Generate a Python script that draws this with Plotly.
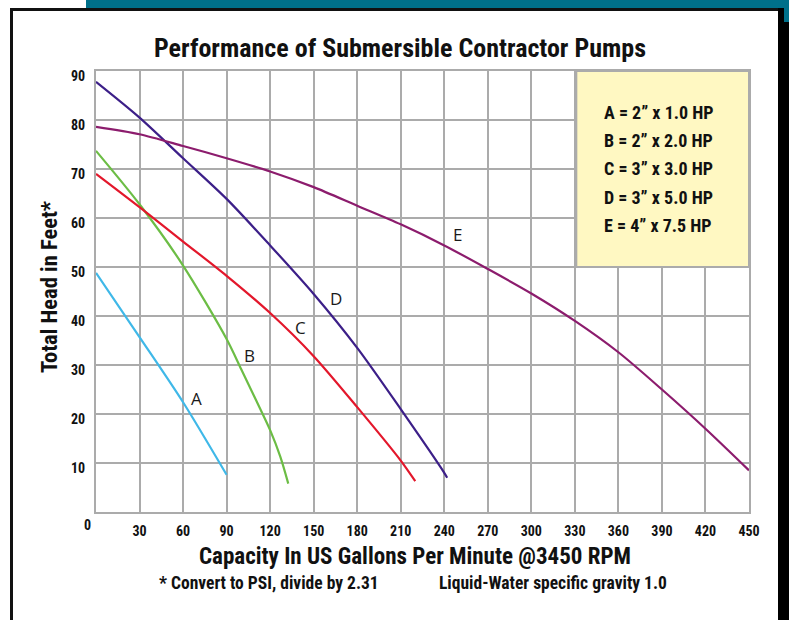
import plotly.graph_objects as go

# ---------------- data ----------------
pump_names = ["A", "B", "C", "D", "E"]
pump_specs = ["A = 2” x 1.0 HP", "B = 2” x 2.0 HP", "C = 3” x 3.0 HP",
              "D = 3” x 5.0 HP", "E = 4” x 7.5 HP"]

a_gpm = [0, 30, 60, 90]
a_head = [48.8, 35.7, 22.4, 7.6]

b_gpm = [0, 30, 60, 90, 100, 110, 120, 127, 132.5]
b_head = [73.7, 62.8, 50.3, 35.3, 29.2, 23.0, 16.7, 11.3, 5.8]

c_gpm = [0, 30, 60, 90, 120, 150, 180, 210, 220]
c_head = [69.0, 62.2, 55.2, 48.2, 40.6, 31.8, 21.4, 10.5, 6.3]

d_gpm = [0, 30, 60, 90, 120, 150, 180, 210, 240, 242]
d_head = [87.8, 80.5, 72.2, 63.9, 54.4, 44.5, 33.5, 21.0, 8.0, 7.0]

e_gpm = [0, 30, 60, 90, 120, 150, 180, 210, 240, 270, 300, 330, 360, 390, 420, 450]
e_head = [78.6, 77.1, 74.7, 72.2, 69.5, 66.3, 62.5, 58.7, 54.4, 49.6, 44.6, 39.0,
          32.6, 25.0, 17.0, 8.5]

label_gpm = [69.4, 106.1, 140.6, 165.2, 249.2]
label_head = [23.2, 32.0, 37.6, 43.5, 56.6]

x_ticks = [30, 60, 90, 120, 150, 180, 210, 240, 270, 300, 330, 360, 390, 420, 450]
y_ticks = [10, 20, 30, 40, 50, 60, 70, 80, 90]

title_text = "Performance of Submersible Contractor Pumps"
x_title = "Capacity In US Gallons Per Minute @3450 RPM"
y_title = "Total Head in Feet*"
note_left = "* Convert to PSI, divide by 2.31"
note_right = "Liquid-Water specific gravity 1.0"

# ---------------- style ----------------
W, H = 789, 620
L, R, T, B = 96, 749, 71, 512
COND = "Liberation Sans Narrow, Roboto Condensed, DejaVu Sans Condensed, Arial Narrow, sans-serif"
GRID = "#ababab"
colors = ["#3fb8e8", "#6cbd45", "#e3172b", "#3c1f88", "#8c1c6d"]

def px(xp):
    return (xp - L) / (R - L)

def py(yp):
    return (B - yp) / (B - T)

fig = go.Figure()
series = [(a_gpm, a_head), (b_gpm, b_head), (c_gpm, c_head), (d_gpm, d_head), (e_gpm, e_head)]
for name, (xs, ys), col in zip(pump_names, series, colors):
    fig.add_trace(go.Scatter(x=xs, y=ys, mode="lines", name=name,
                             line=dict(color=col, width=2.2, shape="spline", smoothing=0.8),
                             showlegend=False, hoverinfo="x+y"))

ann = []
# curve letters
for name, xv, yv in zip(pump_names, label_gpm, label_head):
    ann.append(dict(x=xv, y=yv, text=name, showarrow=False, xref="x", yref="y",
                    xanchor="center", yanchor="middle",
                    font=dict(family="Open Sans, Noto Sans, sans-serif", size=17, color="#1a1a1a")))
# y tick labels
for v in y_ticks:
    ann.append(dict(x=0, y=v, xref="paper", yref="y", text="<b>%d</b>" % v, showarrow=False,
                    xanchor="right", yanchor="middle", xshift=-9, yshift=-5,
                    font=dict(family=COND, size=14, color="#111")))
# zero label
ann.append(dict(x=0, y=0, xref="x", yref="paper", text="<b>0</b>", showarrow=False,
                xanchor="center", yanchor="top", xshift=-9, yshift=-3,
                font=dict(family=COND, size=14, color="#111")))
# legend box text
legend_y = [81.5, 75.8, 70.1, 64.2, 58.5]
for t, yv in zip(pump_specs, legend_y):
    ann.append(dict(x=349, y=yv, xref="x", yref="y", text="<b>%s</b>" % t, showarrow=False,
                    xanchor="left", yanchor="middle", font=dict(family=COND, size=18, color="#111")))
# title and axis titles
def txt(xp, yp, text, size, xanchor="center", angle=0):
    return dict(x=px(xp), y=py(yp), xref="paper", yref="paper", text="<b>%s</b>" % text,
                showarrow=False, xanchor=xanchor, yanchor="middle", textangle=angle,
                font=dict(family=COND, size=size, color="#111"))

ann.append(txt(400, 48, title_text, 26))
ann.append(txt(415, 556, x_title, 23))
ann.append(txt(157, 583, note_left, 17.5, xanchor="left"))
ann.append(txt(437, 583, note_right, 17.5, xanchor="left"))
ann.append(txt(49, 287, y_title, 22.5, angle=-90))

shapes = [
    # legend box
    dict(type="rect", xref="x", yref="y", x0=331, x1=450, y0=50, y1=90,
         fillcolor="#fff8c2", line=dict(color=GRID, width=2), layer="above"),
    # teal top bar
    dict(type="rect", xref="paper", yref="paper", x0=px(86), x1=px(789), y0=py(0), y1=py(8),
         fillcolor="#00708a", line=dict(width=0), layer="above"),
    # black frame
    dict(type="rect", xref="paper", yref="paper", x0=px(10), x1=px(13), y0=py(8), y1=py(620),
         fillcolor="#111", line=dict(width=0), layer="above"),
    dict(type="rect", xref="paper", yref="paper", x0=px(10), x1=px(784), y0=py(8), y1=py(11),
         fillcolor="#111", line=dict(width=0), layer="above"),
    dict(type="rect", xref="paper", yref="paper", x0=px(778), x1=px(789), y0=py(8), y1=py(620),
         fillcolor="#000", line=dict(width=0), layer="above"),
    dict(type="rect", xref="paper", yref="paper", x0=px(784), x1=px(789), y0=py(0), y1=py(22),
         fillcolor="#00708a", line=dict(width=0), layer="above"),
]

fig.update_layout(
    width=W, height=H,
    margin=dict(l=L, r=W - R, t=T, b=H - B),
    paper_bgcolor="white", plot_bgcolor="white",
    annotations=ann, shapes=shapes,
    xaxis=dict(range=[0, 450], tickvals=x_ticks, ticktext=["<b>%d</b>" % v for v in x_ticks],
               showgrid=True, gridcolor=GRID, gridwidth=2, zeroline=False,
               showline=True, linecolor=GRID, linewidth=2, mirror=True, ticks="", ticklen=0,
               ticklabelstandoff=5,
               tickfont=dict(family=COND, size=14, color="#111")),
    yaxis=dict(range=[0, 90], tickvals=y_ticks, showticklabels=False,
               showgrid=True, gridcolor=GRID, gridwidth=2, zeroline=False,
               showline=True, linecolor=GRID, linewidth=2, mirror=True, ticks=""),
)

fig.write_html("out.html", config={"displayModeBar": False},
               post_script="document.body.style.margin='0';document.body.style.padding='0';"
                           "document.body.style.overflow='hidden';")
